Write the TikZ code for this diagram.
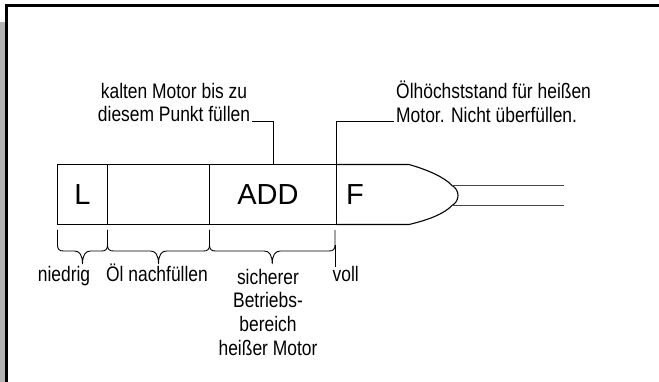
\documentclass[tikz,border=0pt]{standalone}
\usepackage{fontspec}
\setmainfont{Liberation Sans}
\newfontfamily\narrowfont{Liberation Sans}[FakeStretch=0.83]
\usetikzlibrary{positioning,calc}
\definecolor{ink}{HTML}{000000}
\definecolor{sidegray}{HTML}{B4B4B4}
\definecolor{shaftgray}{HTML}{474747}
\tikzset{
  seg/.style={draw=ink,line width=1.1pt,minimum height=60pt,inner sep=0pt,
              outer sep=0pt,font=\fontsize{29}{34}\selectfont},
  lbl/.style={inner sep=0pt,font=\narrowfont\fontsize{21}{23.5}\selectfont},
  pointer/.style={draw=ink,line width=0.9pt},
  bracepath/.style={draw=ink,line width=0.9pt},
  shaft/.style={draw=shaftgray,line width=1.6pt}
}

\begin{document}
\begin{tikzpicture}[x=1pt,y=-1pt]
    \path[use as bounding box] (0,0) rectangle (659,382);
    % page frame
    \fill[sidegray] (0,22) rectangle (5,382);
    \draw[ink,line width=3pt] (6.5,382) -- (6.5,5.5) -- (659,5.5);
    % dipstick blade
    \node[seg,minimum width=50pt] (segl) at (82.5,194.5) {L};
    \node[seg,minimum width=102pt,right=0pt of segl] (segoil) {};
    \node[seg,minimum width=127pt,right=0pt of segoil] (segadd) {ADD\hspace*{10pt}};
    \node[font=\fontsize{29}{34}\selectfont,inner sep=0pt] (fmark) at (355,194.5) {F};
    \draw[ink,line width=1.1pt] (segadd.north east) -- (409,164.5)
      .. controls (428,170) and (444,177) .. (452,185.5)
      .. controls (460,190) and (460,201) .. (452,205.5)
      .. controls (444,214) and (428,220) .. (409,224.5) -- (segadd.south east);
    \coordinate (tipa) at (452,185.5);
    \coordinate (tipb) at (452,205.5);
    \draw[shaft] (tipa) -- (564,185.5);
    \draw[shaft] (tipb) -- (564,205.5);
    % labels above
    \node[lbl,align=center,anchor=north] (coldlbl) at (174,83)
      {kalten Motor bis zu\\diesem Punkt füllen};
    \node[lbl,align=left,anchor=north west] (hotlbl) at (396,81)
      {Ölhöchststand für heißen\\Motor. Nicht überfüllen.};
    \draw[pointer] ([xshift=2pt,yshift=1pt]coldlbl.south east) -| (segadd.north);
    \draw[pointer] (segadd.north east) |- ([xshift=-2pt,yshift=1pt]hotlbl.south west);
    % braces below
    \foreach \a/\b in {57.5/107.5,107.5/209.5,209.5/335}{
      \pgfmathsetmacro\m{(\a+\b)/2}
      \draw[bracepath] (\a,230) -- (\a,245) .. controls (\a,249.5) and ({\a+2},251) .. ({\a+6},251)
        -- ({\m-8},251) .. controls ({\m-3},251) and (\m,255) .. (\m,264)
        .. controls (\m,255) and ({\m+3},251) .. ({\m+8},251)
        -- ({\b-6},251) .. controls ({\b-2},251) and (\b,249.5) .. (\b,245) -- (\b,230);
    }
    \node[lbl,anchor=base] (low) at (64,282) {niedrig};
    \node[lbl,anchor=base] (refill) at (157,282) {Öl nachfüllen};
    \node[lbl,align=center,anchor=base] (safe) at (268,355)
      {sicherer\\Betriebs-\\bereich\\heißer Motor};
    \node[lbl,anchor=base west] (full) at (332.5,282) {voll};
    \coordinate (fullend) at (335,245);
    \draw[pointer] (fullend) -- (fullend |- full.north);
  \end{tikzpicture}
\end{document}
